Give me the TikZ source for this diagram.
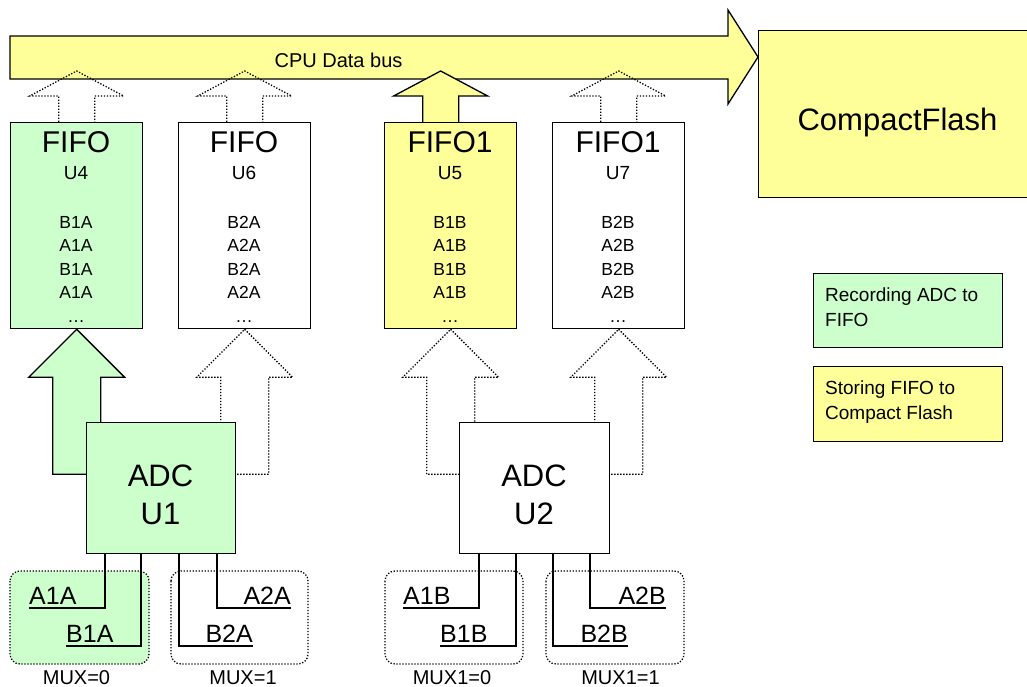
\documentclass[tikz,border=0pt]{standalone}
\usepackage{fontspec}
\setmainfont{Liberation Sans}
\usepackage{xcolor}
\definecolor{recgreen}{HTML}{CCFFCC}
\definecolor{storeyellow}{HTML}{FFFF99}
\newcommand{\fsize}[2]{\fontsize{#1}{#2}\selectfont}

\tikzset{
	box/.style={draw=black, line width=1.3pt, inner sep=0pt, anchor=north west},
	dots/.style={draw=black, line width=1.3pt, dash pattern=on 1.3pt off 1.7pt},
	wire/.style={draw=black, line width=1.3pt},
	txt/.style={inner sep=0pt, anchor=base},
	sig/.style={inner xsep=0pt, inner ysep=3.6pt, font=\fsize{25}{25}},
	rows/.style={inner sep=0pt, anchor=north, align=center, font=\fsize{17.5}{23.5}},
}

\begin{document}
\begin{tikzpicture}[x=1pt,y=-1pt]
	\useasboundingbox (0,0) rectangle (1027,687);

	% data bus into the card
	\filldraw[fill=storeyellow, line width=1.3pt](10,36)--(728,36)--(728,10)--(758,57)--(728,104)--(728,79)--(10,79)--cycle;
	\node[box, fill=storeyellow, minimum width=280pt, minimum height=167pt] (cf) at (758,30) {};
	\node[txt, font=\fsize{31}{31}] (cflabel) at (897.5,131) {CompactFlash};
	\node[txt, font=\fsize{20}{20}] (buslabel) at (338.5,68) {CPU Data bus};

	% the four FIFOs
	\node[box, fill=recgreen, minimum width=132pt, minimum height=206pt] (fifoA) at (10,122) {};
	\node[box, fill=white, minimum width=132pt, minimum height=206pt] (fifoB) at (178,122) {};
	\node[box, fill=storeyellow, minimum width=132pt, minimum height=206pt] (fifoC) at (384,122) {};
	\node[box, fill=white, minimum width=132pt, minimum height=206pt] (fifoD) at (552,122) {};

	\node[txt, font=\fsize{30}{30}] (fifoAname) at (76,153) {FIFO};
	\node[txt, font=\fsize{30}{30}] (fifoBname) at (244,153) {FIFO};
	\node[txt, font=\fsize{30}{30}] (fifoCname) at (450,153) {FIFO1};
	\node[txt, font=\fsize{30}{30}] (fifoDname) at (618,153) {FIFO1};
	\node[txt, font=\fsize{19}{19}] (fifoAunit) at (76,179) {U4};
	\node[txt, font=\fsize{19}{19}] (fifoBunit) at (244,179) {U6};
	\node[txt, font=\fsize{19}{19}] (fifoCunit) at (450,179) {U5};
	\node[txt, font=\fsize{19}{19}] (fifoDunit) at (618,179) {U7};
	\node[rows] (fifoArows) at (76,216) {B1A\\A1A\\B1A\\A1A\\\ldots};
	\node[rows] (fifoBrows) at (244,216) {B2A\\A2A\\B2A\\A2A\\\ldots};
	\node[rows] (fifoCrows) at (450,216) {B1B\\A1B\\B1B\\A1B\\\ldots};
	\node[rows] (fifoDrows) at (618,216) {B2B\\A2B\\B2B\\A2B\\\ldots};

	% FIFO -> bus
	\draw[dots]([xshift=-18pt]fifoA.north)--++(0,-26)--++(-29,0)--++(47,-25)--++(47,25)--++(-29,0)--++(0,26);
	\draw[dots]([xshift=-18pt]fifoB.north)--++(0,-26)--++(-29,0)--++(47,-25)--++(47,25)--++(-29,0)--++(0,26);
	\draw[dots]([xshift=-18pt]fifoD.north)--++(0,-26)--++(-29,0)--++(47,-25)--++(47,25)--++(-29,0)--++(0,26);
	\filldraw[fill=storeyellow, line width=1.3pt]([xshift=-28pt]fifoC.north)--++(0,-26)--++(-29,0)--++(47,-25)--++(47,25)--++(-29,0)--++(0,26);

	% ADC -> FIFO
	\filldraw[fill=recgreen, line width=1.3pt](fifoA.south)--++(48,48)--++(-24,0)--++(0,97)--++(-48,0)--++(0,-97)--++(-24,0)--cycle;
	\draw[dots](fifoB.south)--++(48,48)--++(-24,0)--++(0,97)--++(-48,0)--++(0,-97)--++(-24,0)--cycle;
	\draw[dots](fifoC.south)--++(48,48)--++(-24,0)--++(0,97)--++(-48,0)--++(0,-97)--++(-24,0)--cycle;
	\draw[dots](fifoD.south)--++(48,48)--++(-24,0)--++(0,97)--++(-48,0)--++(0,-97)--++(-24,0)--cycle;

	% the two converters
	\node[box, fill=recgreen, minimum width=149pt, minimum height=131pt] (adcA) at (86,422) {};
	\node[box, fill=white, minimum width=150pt, minimum height=131pt] (adcB) at (459,422) {};
	\node[rows, font=\fsize{31}{38}] (adcAlabel) at (160.5,465) {ADC\\U1};
	\node[rows, font=\fsize{31}{38}] (adcBlabel) at (534,465) {ADC\\U2};

	% multiplexer groups
	\draw[dots, fill=recgreen, rounded corners=10pt](10,571)rectangle(149,664);
	\draw[dots, rounded corners=10pt](171,571)rectangle(308,664);
	\draw[dots, rounded corners=10pt](385,571)rectangle(523,664);
	\draw[dots, rounded corners=10pt](546,571)rectangle(684,664);
	\node[txt, font=\fsize{20}{20}] (muxA0) at (76.5,684) {MUX=0};
	\node[txt, font=\fsize{20}{20}] (muxA1) at (243,684) {MUX=1};
	\node[txt, font=\fsize{20}{20}] (muxB0) at (452,684) {MUX1=0};
	\node[txt, font=\fsize{20}{20}] (muxB1) at (620.5,684) {MUX1=1};

	% inputs
	\node[sig, anchor=south west] (a1a) at (29,608) {A1A};
	\node[sig, anchor=south west] (b1a) at (66,646) {B1A};
	\node[sig, anchor=south east] (b2a) at (253,646) {B2A};
	\node[sig, anchor=south east] (a2a) at (291,608) {A2A};
	\node[sig, anchor=south west] (a1b) at (403,608) {A1B};
	\node[sig, anchor=south west] (b1b) at (440,646) {B1B};
	\node[sig, anchor=south east] (b2b) at (628,646) {B2B};
	\node[sig, anchor=south east] (a2b) at (666,608) {A2B};

	\draw[wire]([xshift=19pt]adcA.south west)|-(a1a.south west);
	\draw[wire]([xshift=55pt]adcA.south west)|-(b1a.south west);
	\draw[wire]([xshift=93pt]adcA.south west)|-(b2a.south east);
	\draw[wire]([xshift=131pt]adcA.south west)|-(a2a.south east);
	\draw[wire]([xshift=20pt]adcB.south west)|-(a1b.south west);
	\draw[wire]([xshift=57pt]adcB.south west)|-(b1b.south west);
	\draw[wire]([xshift=94pt]adcB.south west)|-(b2b.south east);
	\draw[wire]([xshift=131pt]adcB.south west)|-(a2b.south east);

	% legend
	\node[box, fill=recgreen, minimum width=189pt, minimum height=74pt] (legrec) at (813,273) {};
	\node[box, fill=storeyellow, minimum width=189pt, minimum height=75pt] (legstore) at (813,366) {};
	\node[rows, anchor=north west, align=left, font=\fsize{19}{24.5}] (legrectext) at (825,288) {Recording ADC to\\FIFO};
	\node[rows, anchor=north west, align=left, font=\fsize{19}{25}] (legstoretext) at (825,380.5) {Storing FIFO to\\Compact Flash};
\end{tikzpicture}
\end{document}
